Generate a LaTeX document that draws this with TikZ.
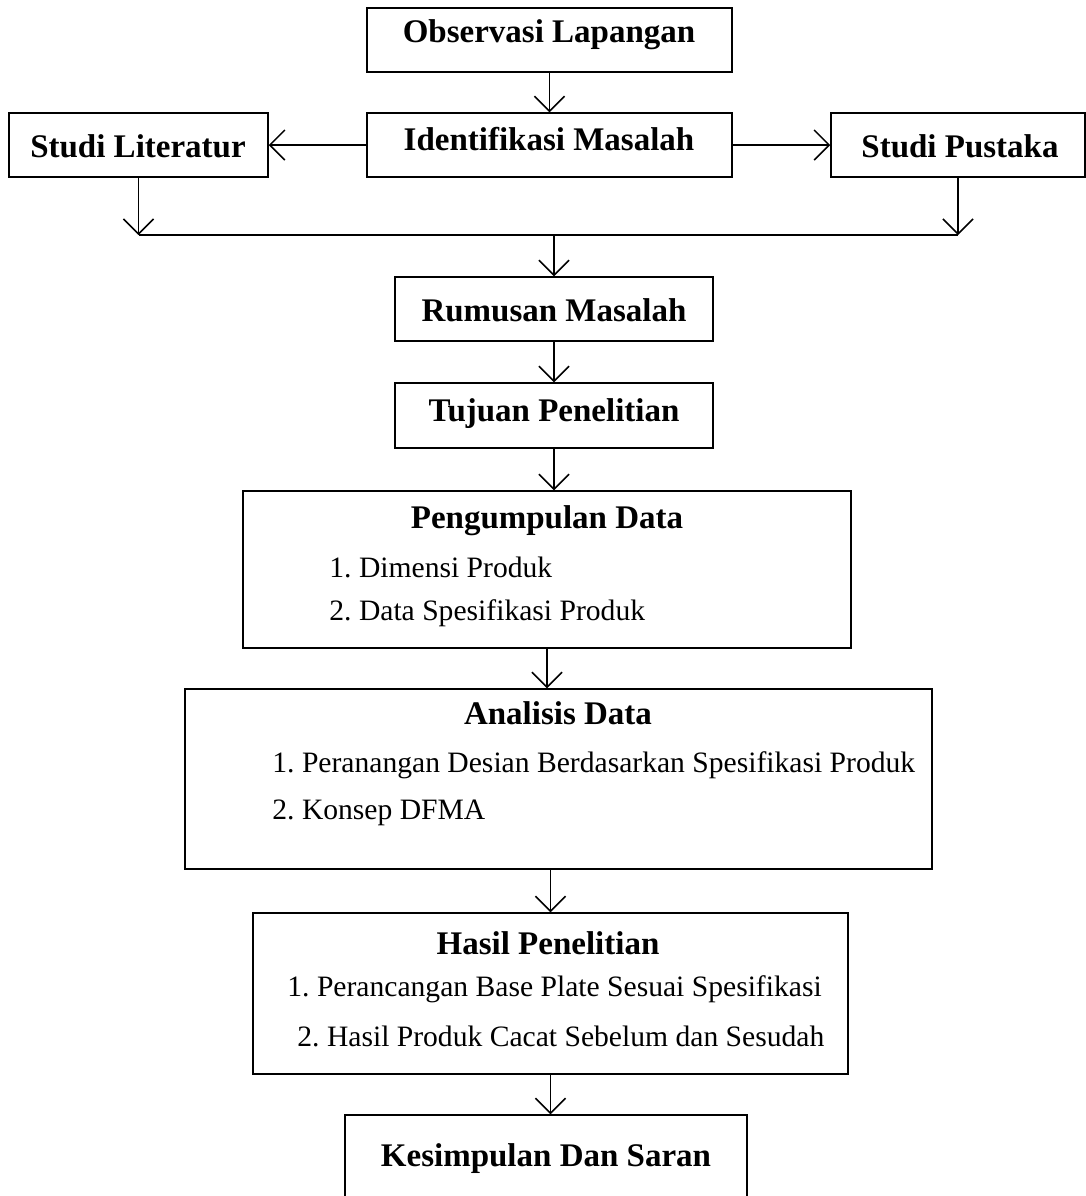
\documentclass[tikz,border=0pt]{standalone}
\usepackage{fontspec}
\setmainfont{Liberation Serif}
\usetikzlibrary{arrows.meta,positioning}
\frenchspacing

\begin{document}
\begin{tikzpicture}[x=0.5pt, y=-0.5pt,
  kotak/.style={draw, line width=0.75pt, inner sep=0pt},
  judul/.style={font=\fontsize{16.5}{20}\selectfont\bfseries, inner sep=0pt},
  butir/.style={font=\fontsize{14.8}{18}\selectfont, anchor=west, inner sep=0pt},
  arr/.style={-{Straight Barb[length=7.5pt, width=15pt]}, line width=0.75pt}
]
\useasboundingbox (0,0) rectangle (1086,1196);

% Baris atas
\node[kotak, minimum width=182.5pt, minimum height=32pt] (obs) at (549.5,40) {};
\node[judul] (obsT) at (549,35) {Observasi Lapangan};
\node[kotak, minimum width=182.5pt, minimum height=32pt] (ident) at (549.5,145) {};
\node[judul] (identT) at (549,139) {Identifikasi Masalah};
\node[kotak, minimum width=129.5pt, minimum height=32pt] (lit) at (138.5,145) {};
\node[judul] (litT) at (138,146) {Studi Literatur};
\node[kotak, minimum width=127pt, minimum height=32pt] (pustaka) at (958,145) {};
\node[judul] (pustakaT) at (960,146) {Studi Pustaka};

\draw[arr] (obs) -- (ident);
\draw[arr] (ident) -- (lit);
\draw[arr] (ident) -- (pustaka);

% Penggabungan
\coordinate (gabung) at (554,235);
\draw[arr] (lit.south) -- (lit.south |- gabung);
\draw[arr] (pustaka.south) -- (pustaka.south |- gabung);
\draw[line width=0.75pt] (lit.south |- gabung) -- (pustaka.south |- gabung);

% Rumusan dan tujuan
\node[kotak, minimum width=159pt, minimum height=32pt] (rumusan) at (554,309) {};
\node[judul] (rumusanT) at (554,310) {Rumusan Masalah};
\node[kotak, minimum width=159pt, minimum height=32.5pt] (tujuan) at (554,415.5) {};
\node[judul] (tujuanT) at (554,414) {Tujuan Penelitian};

\draw[arr] (gabung) -- (rumusan.north);
\draw[arr] (rumusan) -- (tujuan);

% Pengumpulan data
\node[kotak, minimum width=304pt, minimum height=78.5pt] (kumpul) at (547,569.5) {};
\node[judul] (kumpulT) at (547,521) {Pengumpulan Data};
\node[butir] (kumpul1) at (329,567) {1. Dimensi Produk};
\node[butir] (kumpul2) at (329,613) {2. Data Spesifikasi Produk};

\draw[arr] (tujuan.south) -- (tujuan.south |- kumpul.north);

% Analisis data
\node[kotak, minimum width=373.5pt, minimum height=90pt] (analisis) at (558.5,779) {};
\node[judul] (analisisT) at (558,713) {Analisis Data};
\node[butir] (analisis1) at (272,765) {1. Peranangan Desian Berdasarkan Spesifikasi Produk};
\node[butir] (analisis2) at (272,813) {2. Konsep DFMA};

\draw[arr] (kumpul.south) -- (kumpul.south |- analisis.north);

% Hasil penelitian
\node[kotak, minimum width=297.5pt, minimum height=80.5pt] (hasil) at (550.5,993.5) {};
\node[judul] (hasilT) at (548,943) {Hasil Penelitian};
\node[butir] (hasil1) at (287,989) {1. Perancangan Base Plate Sesuai Spesifikasi};
\node[butir] (hasil2) at (297,1036) {2. Hasil Produk Cacat Sebelum dan Sesudah};

\draw[arr] (hasil.north |- analisis.south) -- (hasil.north);

% Kesimpulan
\node[kotak, minimum width=201pt, minimum height=47.5pt] (simpul) at (546,1162.5) {};
\node[judul] (simpulT) at (546,1159) {Kesimpulan Dan Saran};

\draw[arr] (hasil.south) -- (hasil.south |- simpul.north);

\end{tikzpicture}
\end{document}
